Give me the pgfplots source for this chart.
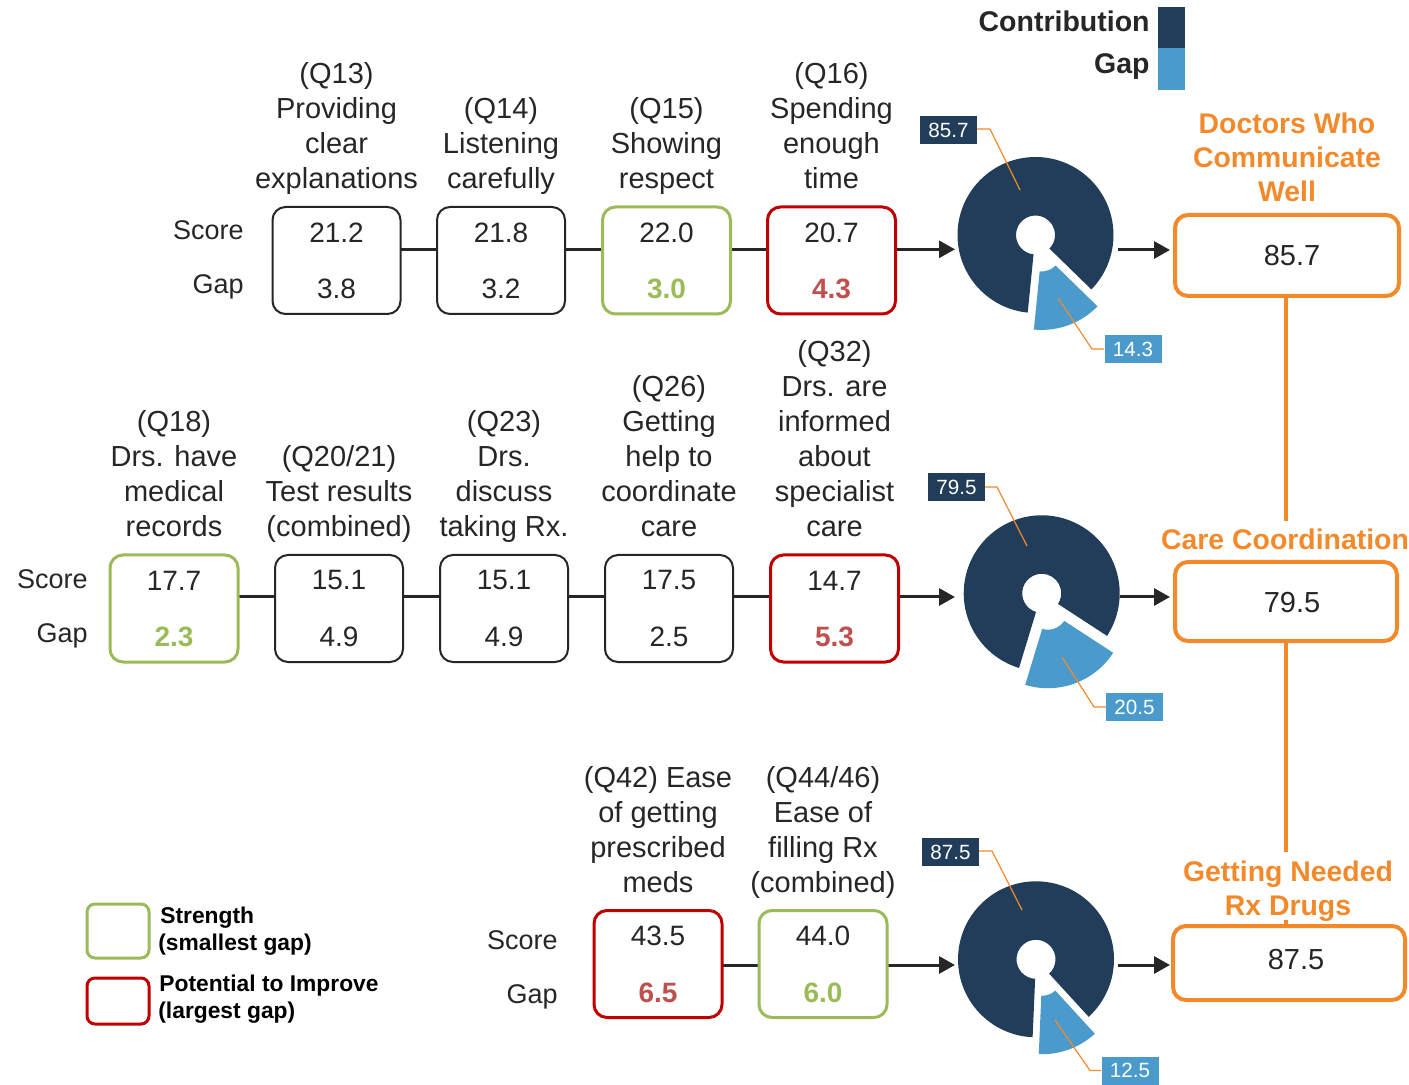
\documentclass[border=0pt]{standalone}
\usepackage{pgfplots}
\pgfplotsset{compat=1.18}
\usetikzlibrary{arrows.meta}
\usepackage{fontspec}
\setmainfont{Liberation Sans}

\definecolor{navy}{HTML}{213D59}
\definecolor{sky}{HTML}{4A9BCB}
\definecolor{accent}{HTML}{F28A2C}
\definecolor{good}{HTML}{9BBB59}
\definecolor{bad}{HTML}{C00000}
\definecolor{badtxt}{HTML}{C0504D}
\definecolor{ink}{HTML}{262626}

\tikzset{
  hdr/.style={anchor=south, align=center, inner sep=0pt, text=ink,
    font=\fontsize{14.5}{17.5}\selectfont},
  lbl/.style={anchor=base east, inner sep=0pt, text=ink,
    font=\fontsize{13.5}{16}\selectfont},
  val/.style={inner sep=0pt, text=ink, font=\fontsize{14}{16}\selectfont},
  plain/.style={draw=ink, line width=1pt},
  strong/.style={draw=good, line width=1.5pt},
  weak/.style={draw=bad, line width=1.5pt},
  gapgood/.style={text=good, font=\fontsize{14}{16}\selectfont\bfseries},
  gapbad/.style={text=badtxt, font=\fontsize{14}{16}\selectfont\bfseries},
  flow/.style={draw=ink, line width=1.5pt, -{Triangle[length=8pt,width=8.5pt]}},
  title/.style={align=center, inner sep=0pt, text=accent,
    font=\fontsize{14.2}{17}\selectfont\bfseries},
  total/.style={draw=accent, line width=2pt, rounded corners=6.5pt, fill=white},
  tag/.style={inner sep=0pt, minimum width=28.5pt, minimum height=14pt,
    text=white, font=\fontsize{10.3}{12}\selectfont},
  leader/.style={draw=accent, line width=0.6pt},
  keytext/.style={anchor=base west, inner sep=0pt, text=black,
    font=\fontsize{11.4}{13}\selectfont\bfseries},
  keyhead/.style={anchor=base east, inner sep=0pt, text=ink,
    font=\fontsize{14.25}{16}\selectfont\bfseries},
}

% question box: #1 x centre, #2 top edge, #3 score, #4 gap, #5 frame, #6 gap text style
\newcommand\qbox[6]{%
  \draw[#5, fill=white, rounded corners=6.5pt] (axis cs:#1,#2) ++(-32pt,0pt) rectangle ++(64pt,-53.5pt);
  \node[val] at ([yshift=-12.75pt]axis cs:#1,#2) {#3};
  \node[val,#6] at ([yshift=-41pt]axis cs:#1,#2) {#4};
}

% donut: #1,#2 centre, #3 contribution (%), #4 gap (%); gap slice centred at -70 deg and pulled out
\newcommand\donut[4]{%
  \fill[navy] ([shift={({-70+1.8*#4}:39pt)}]axis cs:#1,#2)
    arc[start angle={-70+1.8*#4}, delta angle={3.6*#3}, radius=39pt]
    -- ([shift={({290-1.8*#4}:9.75pt)}]axis cs:#1,#2)
    arc[start angle={290-1.8*#4}, delta angle={-3.6*#3}, radius=9.75pt] -- cycle;
  \fill[sky] ([shift={(-70:9pt)},shift={({-70-1.8*#4}:39pt)}]axis cs:#1,#2)
    arc[start angle={-70-1.8*#4}, delta angle={3.6*#4}, radius=39pt]
    -- ([shift={(-70:9pt)},shift={({-70+1.8*#4}:9.75pt)}]axis cs:#1,#2)
    arc[start angle={-70+1.8*#4}, delta angle={-3.6*#4}, radius=9.75pt] -- cycle;
}

\begin{document}
\begin{tikzpicture}
\begin{axis}[x=0.5pt, y=0.5pt, xmin=0, xmax=1409, ymin=0, ymax=1085,
  y dir=reverse, hide axis, clip=false]

% full drawing area
\path (axis cs:0,0) rectangle (axis cs:1409,1085);

% ---------- key (top right)
\fill[navy] (axis cs:1158,7) rectangle (axis cs:1185,48);
\fill[sky] (axis cs:1158,48) rectangle (axis cs:1185,90);
\node[keyhead] at (axis cs:1150,32) {Contribution};
\node[keyhead] at (axis cs:1150,74) {Gap};

% ---------- composite links
\draw[accent, line width=2pt] (axis cs:1286,296) -- (axis cs:1286,521);
\draw[accent, line width=2pt] (axis cs:1286,641) -- (axis cs:1286,852);
\draw[accent, line width=2pt] (axis cs:1286,920) -- (axis cs:1286,926);

% ---------- Doctors Who Communicate Well
\node[hdr] at (axis cs:336.5,199) {(Q13)\\Providing\\clear\\explanations\strut};
\node[hdr] at (axis cs:501,199) {(Q14)\\Listening\\carefully\strut};
\node[hdr] at (axis cs:666.5,199) {(Q15)\\Showing\\respect\strut};
\node[hdr] at (axis cs:831.5,199) {(Q16)\\Spending\\enough\\time\strut};
\node[lbl] at (axis cs:244,239.5) {Score};
\node[lbl] at (axis cs:244,293.5) {Gap};
\draw[flow] (axis cs:336,249.3) -- (axis cs:955,249.3);
\qbox{336.5}{207}{21.2}{3.8}{plain}{}
\qbox{501}{207}{21.8}{3.2}{plain}{}
\qbox{666.5}{207}{22.0}{3.0}{strong}{gapgood}
\qbox{831.5}{207}{20.7}{4.3}{weak}{gapbad}
\donut{1035.5}{235}{85.7}{14.3}
\draw[flow] (axis cs:1118,250) -- (axis cs:1170,250);
\node[tag, fill=navy] at (axis cs:948.5,130) {85.7};
\node[tag, fill=sky] at (axis cs:1133,349) {14.3};
\draw[leader] (axis cs:977,129) -- (axis cs:990,129) -- (axis cs:1020,190);
\draw[leader] (axis cs:1104,349) -- (axis cs:1092,349) -- (axis cs:1058,298);
\node[title, anchor=south] at (axis cs:1287,212) {Doctors Who\\Communicate\\Well\strut};
\draw[total] (axis cs:1175,215) rectangle (axis cs:1399,296);
\node[val, font=\fontsize{14.5}{16}\selectfont] at (axis cs:1292,256) {85.7};

% ---------- Care Coordination
\node[hdr] at (axis cs:174,547) {(Q18)\\Drs. have\\medical\\records\strut};
\node[hdr] at (axis cs:339,547) {(Q20/21)\\Test results\\(combined)\strut};
\node[hdr] at (axis cs:504,547) {(Q23)\\Drs.\\discuss\\taking Rx.\strut};
\node[hdr] at (axis cs:669,547) {(Q26)\\Getting\\help to\\coordinate\\care\strut};
\node[hdr] at (axis cs:834.5,547) {(Q32)\\Drs. are\\informed\\about\\specialist\\care\strut};
\node[lbl] at (axis cs:88,588.5) {Score};
\node[lbl] at (axis cs:88,642) {Gap};
\draw[flow] (axis cs:174,597) -- (axis cs:955,597);
\qbox{174}{555}{17.7}{2.3}{strong}{gapgood}
\qbox{339}{555}{15.1}{4.9}{plain}{}
\qbox{504}{555}{15.1}{4.9}{plain}{}
\qbox{669}{555}{17.5}{2.5}{plain}{}
\qbox{834.5}{555}{14.7}{5.3}{weak}{gapbad}
\donut{1041.7}{593.3}{79.5}{20.5}
\draw[flow] (axis cs:1120,597) -- (axis cs:1170,597);
\node[tag, fill=navy] at (axis cs:956.5,487) {79.5};
\node[tag, fill=sky] at (axis cs:1134.5,707) {20.5};
\draw[leader] (axis cs:985,487) -- (axis cs:997,487) -- (axis cs:1027,546);
\draw[leader] (axis cs:1106,707) -- (axis cs:1094,707) -- (axis cs:1062,657);
\node[title, anchor=base] at (axis cs:1285,550) {Care Coordination};
\draw[total] (axis cs:1175,562) rectangle (axis cs:1397,641);
\node[val, font=\fontsize{14.5}{16}\selectfont] at (axis cs:1292,603) {79.5};

% ---------- Getting Needed Rx Drugs
\node[hdr] at (axis cs:658,903) {(Q42) Ease\\of getting\\prescribed\\meds\strut};
\node[hdr] at (axis cs:823,903) {(Q44/46)\\Ease of\\filling Rx\\(combined)\strut};
\node[lbl] at (axis cs:558,949.5) {Score};
\node[lbl] at (axis cs:558,1003.5) {Gap};
\draw[flow] (axis cs:658,965) -- (axis cs:955,965);
\qbox{658}{910.5}{43.5}{6.5}{weak}{gapbad}
\qbox{823}{910.5}{44.0}{6.0}{strong}{gapgood}
\donut{1036}{959.3}{87.5}{12.5}
\draw[flow] (axis cs:1118,965) -- (axis cs:1170,965);
\node[tag, fill=navy] at (axis cs:950.5,852) {87.5};
\node[tag, fill=sky] at (axis cs:1130,1070.5) {12.5};
\draw[leader] (axis cs:979,851) -- (axis cs:992,851) -- (axis cs:1022,910);
\draw[leader] (axis cs:1101,1070.5) -- (axis cs:1090,1070.5) -- (axis cs:1055,1020);
\node[title, anchor=south] at (axis cs:1288,926) {Getting Needed\\Rx Drugs\strut};
\draw[total] (axis cs:1173,926) rectangle (axis cs:1405,1000);
\node[val, font=\fontsize{14.5}{16}\selectfont] at (axis cs:1296,960) {87.5};

% ---------- frame key (bottom left)
\draw[good, line width=1.5pt, rounded corners=4pt] (axis cs:87,904) rectangle (axis cs:149,958);
\draw[bad, line width=1.5pt, rounded corners=4pt] (axis cs:87,978) rectangle (axis cs:149,1024);
\node[keytext] at (axis cs:160,923) {Strength};
\node[keytext] at (axis cs:158,950) {(smallest gap)};
\node[keytext] at (axis cs:159,991) {Potential to Improve};
\node[keytext] at (axis cs:158,1018) {(largest gap)};
\end{axis}
\end{tikzpicture}
\end{document}
